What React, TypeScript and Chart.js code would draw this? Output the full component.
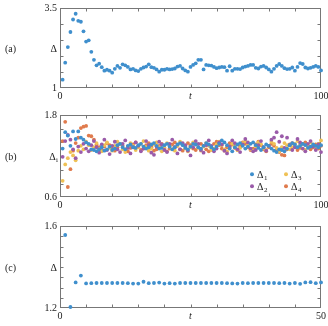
import React, { useEffect, useRef } from 'react';
import { Chart, registerables } from 'chart.js';
Chart.register(...registerables);

const FONT = '"Liberation Serif", "DejaVu Serif", serif';
const TEXT = '#222';
const FRAME = '#777';

// ---- Panel (a) ----
const seriesA = [
  1.26, 1.79, 2.28, 2.75, 3.14, 3.32, 3.10, 3.07, 2.77, 2.45, 2.49, 2.13, 1.88, 1.71, 1.76, 1.65, 1.54, 1.57, 1.54, 1.48,
  1.60, 1.69, 1.63, 1.74, 1.71, 1.66, 1.58, 1.60, 1.55, 1.53, 1.60, 1.64, 1.67, 1.74, 1.65, 1.63, 1.58, 1.51, 1.57, 1.57,
  1.60, 1.58, 1.59, 1.61, 1.67, 1.69, 1.61, 1.55, 1.51, 1.66, 1.72, 1.77, 1.88, 1.88, 1.58, 1.72, 1.71, 1.70, 1.66, 1.62,
  1.64, 1.66, 1.65, 1.54, 1.68, 1.54, 1.60, 1.60, 1.59, 1.64, 1.67, 1.69, 1.72, 1.72, 1.63, 1.61, 1.67, 1.69, 1.64, 1.58,
  1.51, 1.60, 1.69, 1.75, 1.69, 1.62, 1.59, 1.60, 1.64, 1.54, 1.66, 1.78, 1.75, 1.64, 1.61, 1.63, 1.66, 1.69, 1.66, 1.55,
];

// ---- Panel (b) ----
const seriesB1 = [
  1.31, 1.55, 1.50, 1.35, 1.56, 1.45, 1.56, 1.47, 1.44, 1.40, 1.38, 1.30, 1.29, 1.27, 1.30,
  1.33, 1.28, 1.30, 1.34, 1.29, 1.31, 1.36, 1.38, 1.33, 1.30, 1.35, 1.37, 1.33, 1.32, 1.36,
  1.38, 1.34, 1.31, 1.33, 1.37, 1.39, 1.35, 1.31, 1.32, 1.36, 1.38, 1.34, 1.30, 1.33, 1.37,
  1.39, 1.36, 1.32, 1.30, 1.34, 1.38, 1.37, 1.33, 1.31, 1.35, 1.39, 1.37, 1.33, 1.30, 1.34,
  1.38, 1.43, 1.40, 1.36, 1.31, 1.27, 1.33, 1.37, 1.39, 1.35, 1.31, 1.34, 1.38, 1.40, 1.36,
  1.32, 1.29, 1.33, 1.37, 1.35, 1.31, 1.28, 1.26, 1.30, 1.29, 1.27, 1.31, 1.36, 1.39, 1.37,
  1.33, 1.35, 1.38, 1.36, 1.32, 1.34, 1.37, 1.35, 1.33, 1.36,
];
const seriesB2 = [
  1.19, 1.42, 1.51, 1.44, 1.30, 1.17, 1.34, 1.26, 1.38, 1.31, 1.27, 1.36, 1.42, 1.33, 1.25,
  1.37, 1.44, 1.29, 1.23, 1.35, 1.41, 1.30, 1.26, 1.38, 1.43, 1.32, 1.24, 1.33, 1.40, 1.35,
  1.27, 1.31, 1.42, 1.36, 1.25, 1.22, 1.34, 1.41, 1.37, 1.29, 1.26, 1.38, 1.44, 1.33, 1.24,
  1.30, 1.39, 1.36, 1.28, 1.21, 1.33, 1.42, 1.38, 1.29, 1.25, 1.36, 1.43, 1.35, 1.27, 1.31,
  1.40, 1.37, 1.28, 1.24, 1.34, 1.43, 1.39, 1.30, 1.26, 1.37, 1.45, 1.40, 1.31, 1.27, 1.29,
  1.36, 1.42, 1.33, 1.28, 1.35, 1.44, 1.47, 1.55, 1.41, 1.49, 1.32, 1.47, 1.36, 1.29, 1.33,
  1.45, 1.40, 1.31, 1.27, 1.38, 1.42, 1.34, 1.29, 1.37, 1.26,
];
const seriesB3 = [
  0.84, 1.08, 1.17, 1.26, 1.21, 1.14, 1.28, 1.35, 1.30, 1.41, 1.36, 1.29, 1.33, 1.39, 1.31,
  1.27, 1.36, 1.40, 1.32, 1.28, 1.35, 1.41, 1.38, 1.30, 1.26, 1.34, 1.39, 1.35, 1.29, 1.33,
  1.38, 1.42, 1.34, 1.28, 1.31, 1.37, 1.40, 1.33, 1.27, 1.32, 1.39, 1.36, 1.30, 1.28, 1.35,
  1.41, 1.37, 1.31, 1.27, 1.33, 1.40, 1.38, 1.32, 1.28, 1.34, 1.39, 1.35, 1.29, 1.31, 1.37,
  1.41, 1.36, 1.30, 1.27, 1.33, 1.38, 1.35, 1.29, 1.32, 1.39, 1.42, 1.36, 1.30, 1.28, 1.34,
  1.40, 1.37, 1.31, 1.29, 1.35, 1.41, 1.38, 1.32, 1.27, 1.33, 1.39, 1.36, 1.30, 1.33, 1.38,
  1.42, 1.37, 1.31, 1.29, 1.35, 1.40, 1.36, 1.31, 1.38, 1.43,
];
const seriesB4 = [
  1.42, 1.70, 0.75, 1.01, 1.28, 1.39, 1.47, 1.61, 1.63, 1.64, 1.50, 1.49, 1.44, 1.37, 1.33,
  1.29, 1.34, 1.39, 1.36, 1.31, 1.28, 1.33, 1.38, 1.35, 1.30, 1.27, 1.32, 1.37, 1.40, 1.34,
  1.29, 1.31, 1.36, 1.39, 1.33, 1.28, 1.30, 1.35, 1.38, 1.32, 1.27, 1.31, 1.37, 1.40, 1.35,
  1.30, 1.28, 1.34, 1.39, 1.36, 1.31, 1.29, 1.33, 1.38, 1.35, 1.30, 1.27, 1.32, 1.38, 1.41,
  1.36, 1.31, 1.28, 1.33, 1.39, 1.37, 1.32, 1.29, 1.34, 1.40, 1.38, 1.33, 1.29, 1.31, 1.37,
  1.41, 1.36, 1.30, 1.27, 1.33, 1.38, 1.35, 1.29, 1.26, 1.22, 1.21, 1.30, 1.37, 1.39, 1.34,
  1.29, 1.32, 1.38, 1.40, 1.34, 1.30, 1.33, 1.37, 1.31, 1.35,
];
const labelsB = ['1', '2', '3', '4'];

// ---- Panel (c) ----
const seriesC = [
  1.556, 1.205, 1.325, 1.358, 1.320, 1.321, 1.322, 1.322, 1.322, 1.322,
  1.322, 1.322, 1.321, 1.319, 1.319, 1.328, 1.321, 1.322, 1.324, 1.319,
  1.321, 1.319, 1.322, 1.322, 1.322, 1.322, 1.322, 1.322, 1.322, 1.322,
  1.322, 1.321, 1.320, 1.319, 1.322, 1.321, 1.322, 1.322, 1.322, 1.322,
  1.322, 1.321, 1.322, 1.319, 1.322, 1.318, 1.325, 1.326, 1.321, 1.325,
];

const BLUE = '#3f8fcd';
const PURPLE = '#9a5ba9';
const YELLOW = '#efc155';
const ORANGE = '#e07b4d';

type DS = { label: string; data: number[]; color: string };
type Spec = {
  letter: string;
  yLabel: string;
  ySub?: string;
  xMax: number;
  xStep: number;
  yMin: number;
  yMax: number;
  yStep: number;
  yMinText: string;
  yMaxText: string;
  datasets: DS[];
  padTop: number;
  xAxisH: number;
  legend?: boolean;
};

const framePlugin = {
  id: 'frameTicks',
  beforeDatasetsDraw(chart: any) {
    const { ctx, chartArea: a, scales } = chart;
    ctx.save();
    ctx.strokeStyle = FRAME;
    ctx.lineWidth = 1;
    const L = Math.round(a.left) + 0.5;
    const R = Math.round(a.right) - 0.5;
    const T = Math.round(a.top) + 0.5;
    const B = Math.round(a.bottom) - 0.5;
    ctx.strokeRect(L, T, R - L, B - T);
    const len = 3;
    ctx.beginPath();
    scales.x.ticks.forEach((t: any, i: number) => {
      if (i === 0 || i === scales.x.ticks.length - 1) return;
      const px = Math.round(scales.x.getPixelForValue(t.value)) + 0.5;
      ctx.moveTo(px, B);
      ctx.lineTo(px, B - len);
      ctx.moveTo(px, T);
      ctx.lineTo(px, T + len);
    });
    scales.y.ticks.forEach((t: any, i: number) => {
      if (i === 0 || i === scales.y.ticks.length - 1) return;
      const py = Math.round(scales.y.getPixelForValue(t.value)) + 0.5;
      ctx.moveTo(L, py);
      ctx.lineTo(L + len, py);
      ctx.moveTo(R, py);
      ctx.lineTo(R - len, py);
    });
    ctx.stroke();
    ctx.restore();
  },
};

const labelPlugin = {
  id: 'panelLabels',
  afterDraw(chart: any, _args: any, opts: any) {
    const { ctx, chartArea: a } = chart;
    const mid = (a.top + a.bottom) / 2;
    const base = mid + 3.5;
    ctx.save();
    ctx.fillStyle = TEXT;
    ctx.textBaseline = 'alphabetic';
    ctx.font = `10px ${FONT}`;
    ctx.textAlign = 'left';
    ctx.fillText(opts.letter, 5, base);
    ctx.textAlign = 'right';
    if (opts.ySub) {
      ctx.font = `7px ${FONT}`;
      const subW = ctx.measureText(opts.ySub).width;
      ctx.fillText(opts.ySub, a.left - 2, base + 2);
      ctx.font = `10px ${FONT}`;
      ctx.fillText(opts.yLabel, a.left - 2 - subW - 0.3, base);
    } else {
      ctx.fillText(opts.yLabel, a.left - 3, base);
    }
    if (opts.legend) {
      const dss = chart.data.datasets;
      dss.forEach((d: any, i: number) => {
        const col = Math.floor(i / 2);
        const row = i % 2;
        const dx = a.right - 69 + col * 34;
        const dy = a.bottom - 23 + row * 12;
        ctx.beginPath();
        ctx.fillStyle = d.backgroundColor;
        ctx.arc(dx, dy, 2, 0, Math.PI * 2);
        ctx.fill();
        ctx.fillStyle = TEXT;
        ctx.textAlign = 'left';
        ctx.font = `10px ${FONT}`;
        ctx.fillText('Δ', dx + 5, dy + 3.5);
        const w = ctx.measureText('Δ').width;
        ctx.font = `7px ${FONT}`;
        ctx.fillText(d.label, dx + 5 + w + 0.5, dy + 5.5);
      });
    }
    ctx.restore();
  },
};

function makeConfig(s: Spec): any {
  const near = (a: number, b: number) => Math.abs(a - b) < 1e-6;
  return {
    type: 'scatter',
    data: {
      datasets: s.datasets.map((d) => ({
        label: d.label,
        data: d.data.map((v, i) => ({ x: i + 1, y: v })),
        backgroundColor: d.color,
        borderColor: d.color,
        pointRadius: 1.9,
        pointBorderWidth: 0,
        pointHoverRadius: 1.9,
        clip: false,
      })),
    },
    options: {
      animation: false,
      responsive: false,
      devicePixelRatio: 1,
      events: [],
      layout: { padding: { top: s.padTop, right: 7, left: 0, bottom: 0 } },
      plugins: {
        legend: { display: false },
        tooltip: { enabled: false },
        panelLabels: {
          letter: s.letter,
          yLabel: s.yLabel,
          ySub: s.ySub,
          legend: s.legend,
        },
      },
      scales: {
        x: {
          type: 'linear',
          min: 0,
          max: s.xMax,
          grid: { display: false, drawTicks: false },
          border: { display: false },
          ticks: {
            stepSize: s.xStep,
            autoSkip: false,
            maxRotation: 0,
            padding: 2,
            color: TEXT,
            font: (c: any) => ({
              family: FONT,
              size: 10,
              style: c.tick && near(c.tick.value, s.xMax / 2) ? 'italic' : 'normal',
            }),
            callback: (v: number) =>
              near(v, 0) ? '0' : near(v, s.xMax) ? String(s.xMax) : near(v, s.xMax / 2) ? 't' : '',
          },
          afterFit: (sc: any) => {
            sc.height = s.xAxisH;
            sc.paddingLeft = 0;
            sc.paddingRight = 0;
          },
        },
        y: {
          type: 'linear',
          min: s.yMin,
          max: s.yMax,
          grid: { display: false, drawTicks: false },
          border: { display: false },
          ticks: {
            stepSize: s.yStep,
            autoSkip: false,
            padding: 3,
            color: TEXT,
            font: { family: FONT, size: 10 },
            callback: (v: number) => (near(v, s.yMin) ? s.yMinText : near(v, s.yMax) ? s.yMaxText : ''),
          },
          afterFit: (sc: any) => {
            sc.width = 60;
            sc.paddingTop = 0;
            sc.paddingBottom = 0;
          },
        },
      },
    },
    plugins: [framePlugin, labelPlugin],
  };
}

const specA: Spec = {
  letter: '(a)', yLabel: 'Δ', xMax: 100, xStep: 10, yMin: 1, yMax: 3.5, yStep: 0.5,
  yMinText: '1', yMaxText: '3.5',
  datasets: [{ label: 'Δ', data: seriesA, color: BLUE }],
  padTop: 8, xAxisH: 17,
};
const specB: Spec = {
  letter: '(b)', yLabel: 'Δ', ySub: 'i', xMax: 100, xStep: 10, yMin: 0.6, yMax: 1.8, yStep: 0.2,
  yMinText: '0.6', yMaxText: '1.8',
  datasets: [
    { label: labelsB[0], data: seriesB1, color: BLUE },
    { label: labelsB[1], data: seriesB2, color: PURPLE },
    { label: labelsB[2], data: seriesB3, color: YELLOW },
    { label: labelsB[3], data: seriesB4, color: ORANGE },
  ],
  padTop: 10, xAxisH: 17.7, legend: true,
};
const specC: Spec = {
  letter: '(c)', yLabel: 'Δ', xMax: 50, xStep: 5, yMin: 1.2, yMax: 1.6, yStep: 0.05,
  yMinText: '1.2', yMaxText: '1.6',
  datasets: [{ label: 'Δ', data: seriesC, color: BLUE }],
  padTop: 11, xAxisH: 18,
};

export default function App() {
  const ra = useRef<HTMLCanvasElement>(null);
  const rb = useRef<HTMLCanvasElement>(null);
  const rc = useRef<HTMLCanvasElement>(null);
  useEffect(() => {
    const charts = [
      new Chart(ra.current as HTMLCanvasElement, makeConfig(specA)),
      new Chart(rb.current as HTMLCanvasElement, makeConfig(specB)),
      new Chart(rc.current as HTMLCanvasElement, makeConfig(specC)),
    ];
    return () => charts.forEach((c) => c.destroy());
  }, []);
  const cs = (top: number, h: number): React.CSSProperties => ({
    position: 'absolute', left: 0, top, width: 328, height: h, display: 'block',
  });
  return (
    <div style={{ position: 'fixed', left: 0, top: 0, width: 328, height: 326, background: '#fff' }}>
      <canvas ref={ra} width={328} height={105} style={cs(0, 105)} />
      <canvas ref={rb} width={328} height={110} style={cs(105, 110)} />
      <canvas ref={rc} width={328} height={111} style={cs(215, 111)} />
    </div>
  );
}
